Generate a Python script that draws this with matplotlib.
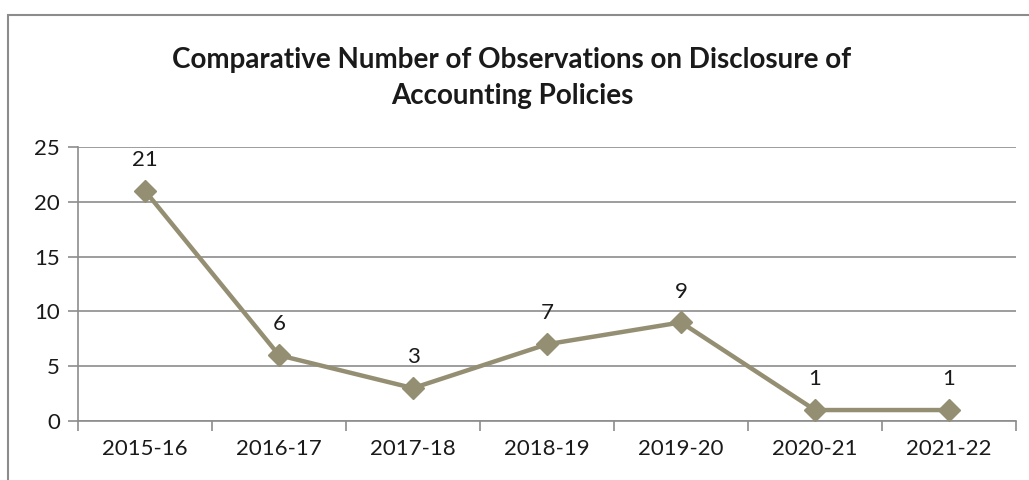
import matplotlib.pyplot as plt
from matplotlib.patches import Rectangle

years = ["2015-16", "2016-17", "2017-18", "2018-19", "2019-20", "2020-21", "2021-22"]
observations = [21, 6, 3, 7, 9, 1, 1]
yticks = [0, 5, 10, 15, 20, 25]

plt.rcParams['font.family'] = ['Lato', 'DejaVu Sans']

fig = plt.figure(figsize=(10.29, 4.8), dpi=100)
# outer chart border
fig.patches.append(Rectangle((8 / 1029, -0.1), 1.1, 1 - 15 / 480 + 0.1, transform=fig.transFigure,
                             fill=False, edgecolor="#8c8c8c", linewidth=1.5))

ax = fig.add_axes([78 / 1029, 59 / 480, (1016 - 78) / 1029, (421 - 147) / 480])
x = list(range(len(years)))
ax.plot(x, observations, color="#948f73", linewidth=3.2, marker="D", markersize=11, zorder=3)
for xi, v in zip(x, observations):
    ax.annotate(str(v), (xi, v), xytext=(0, 15), textcoords="offset points",
                ha="center", va="bottom", fontsize=16, color="#1a1a1a")

ax.set_xlim(-0.5, len(years) - 0.5)
ax.set_ylim(0, 25)
ax.set_yticks(yticks)
ax.set_xticks(x)
ax.set_xticklabels(years)
ax.set_xticks([i - 0.5 for i in range(len(years) + 1)], minor=True)
ax.tick_params(axis="x", which="major", length=0, pad=13, labelsize=16, labelcolor="#1a1a1a")
ax.tick_params(axis="x", which="minor", length=7, color="#8c8c8c", width=1.2)
ax.tick_params(axis="y", length=7, color="#8c8c8c", width=1.2, labelsize=16, labelcolor="#1a1a1a", pad=6)
ax.grid(axis="y", color="#8c8c8c", linewidth=1.2)
for s in ["top", "right"]:
    ax.spines[s].set_visible(False)
for s in ["left", "bottom"]:
    ax.spines[s].set_color("#8c8c8c")
    ax.spines[s].set_linewidth(1.2)

fig.text(512 / 1029, 1 - 78 / 480, "Comparative Number of Observations on Disclosure of\nAccounting Policies",
         ha="center", va="center", fontsize=20, fontweight="bold", color="#1a1a1a", linespacing=1.45)

fig.savefig("out.png", dpi=100)
